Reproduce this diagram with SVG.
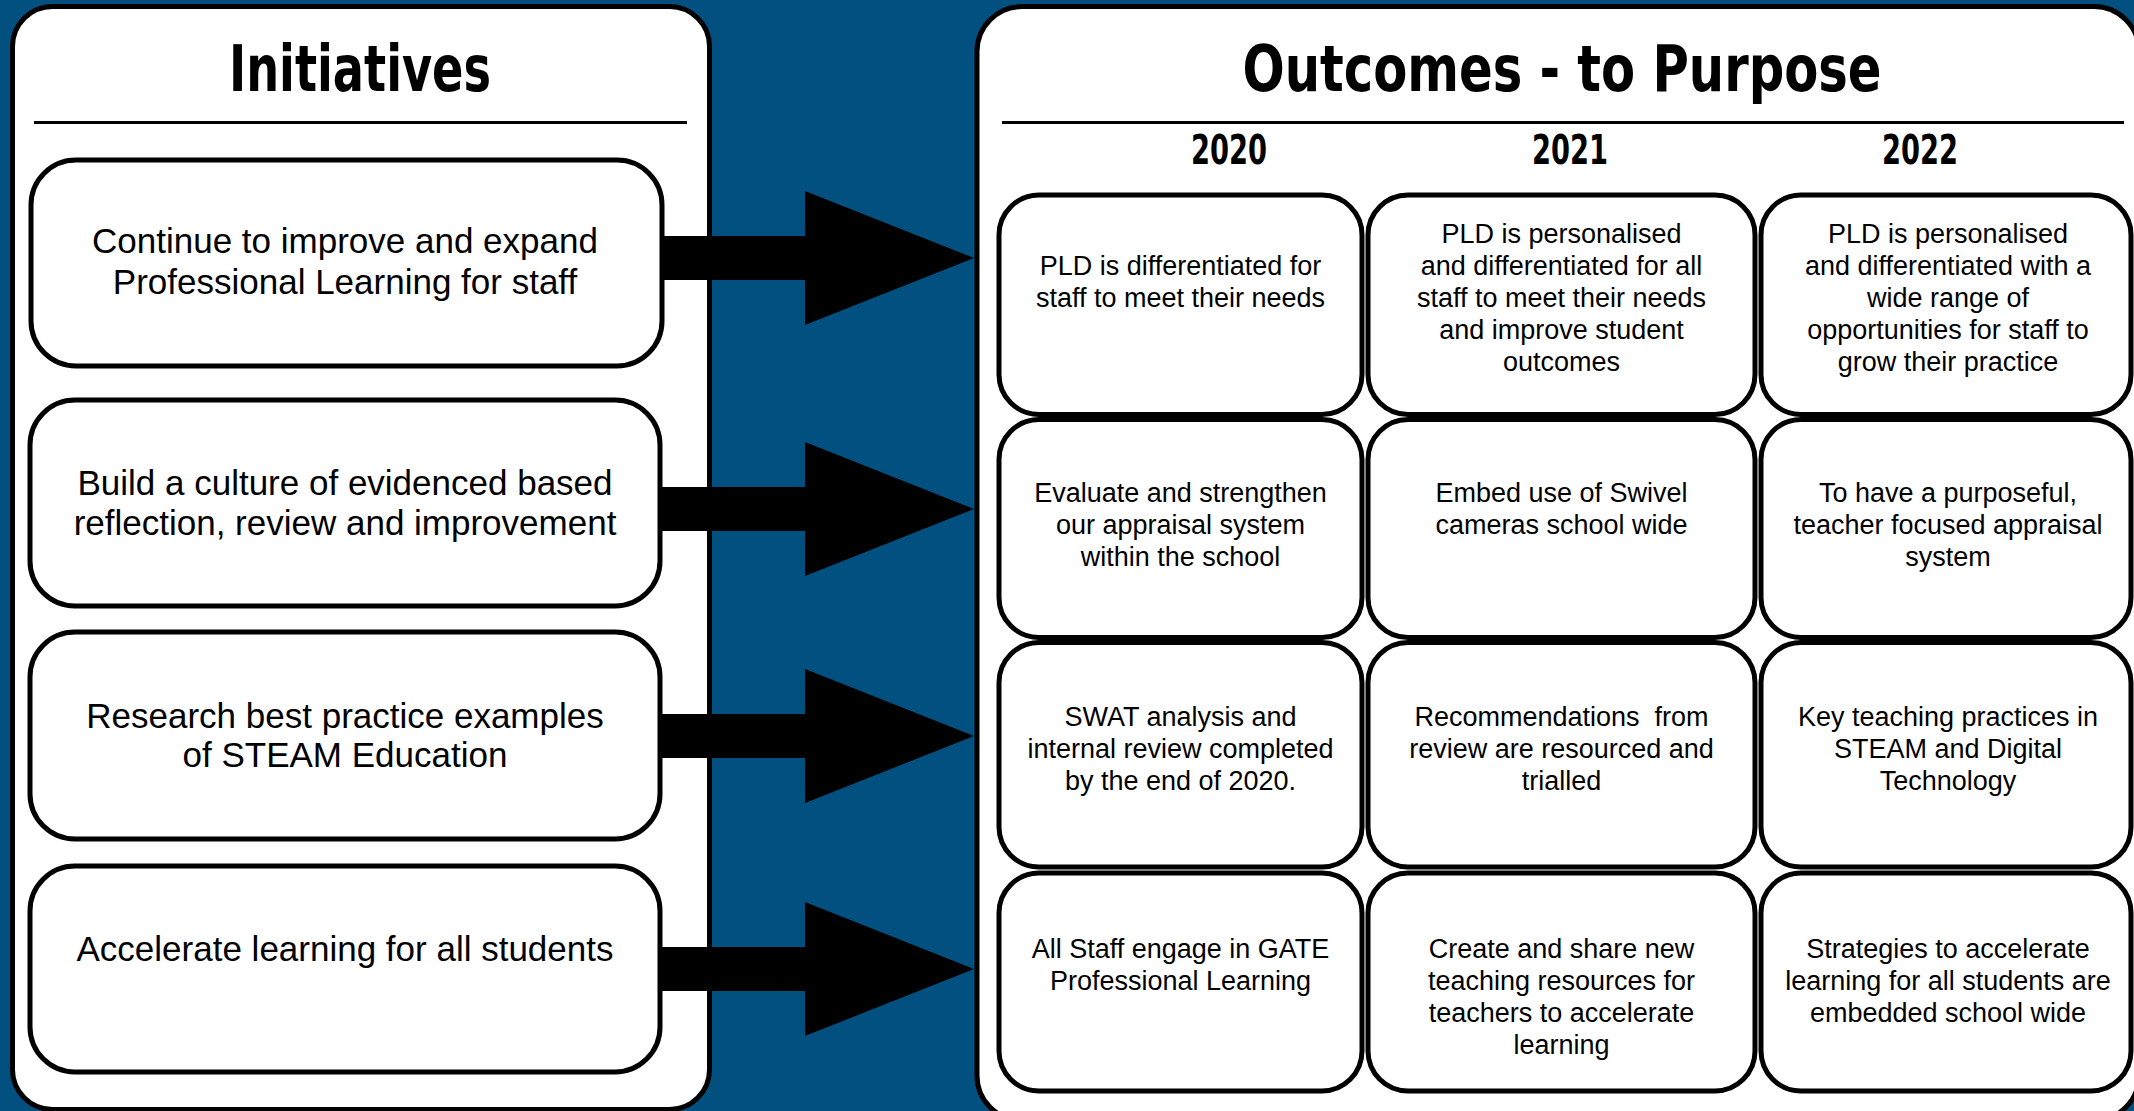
<svg xmlns="http://www.w3.org/2000/svg" width="2134" height="1111" viewBox="0 0 2134 1111">
<style>
.panel{fill:#fff;stroke:#000;stroke-width:5}
.box{fill:#fff;stroke:#000;stroke-width:5}
.rule{stroke:#000;stroke-width:3}
.arrow{fill:#000}
.title{font-family:"DejaVu Sans Condensed","DejaVu Sans",sans-serif;font-weight:bold;font-size:64px;text-anchor:middle;fill:#000}
.year{font-family:"DejaVu Sans Condensed","DejaVu Sans",sans-serif;font-weight:bold;font-size:40px;text-anchor:middle;fill:#000}
.it{font-family:"Liberation Sans",Arial,sans-serif;font-size:35px;text-anchor:middle;fill:#000}
.ot{font-family:"Liberation Sans",Arial,sans-serif;font-size:27px;text-anchor:middle;fill:#000;white-space:pre}
</style>
<rect x="0" y="0" width="2134" height="1111" fill="#01507f"/>
<g id="panels">
<rect id="initiatives-panel" class="panel" x="12.5" y="6.5" width="697" height="1103" rx="40"/>
<rect id="outcomes-panel" class="panel" x="977" y="6.5" width="1162" height="1114" rx="45"/>
<line class="rule" x1="34" y1="122.5" x2="687" y2="122.5"/>
<line class="rule" x1="1002" y1="122.5" x2="2124" y2="122.5"/>
<text class="title" x="360" y="91" textLength="262" lengthAdjust="spacingAndGlyphs">Initiatives</text>
<text class="title" x="1562" y="91" textLength="639" lengthAdjust="spacingAndGlyphs">Outcomes - to Purpose</text>
<text class="year" x="1229" y="164" textLength="76" lengthAdjust="spacingAndGlyphs">2020</text>
<text class="year" x="1570" y="164" textLength="76" lengthAdjust="spacingAndGlyphs">2021</text>
<text class="year" x="1920" y="164" textLength="76" lengthAdjust="spacingAndGlyphs">2022</text>
</g>
<g id="connectors">
<polygon class="arrow" points="655,236 805,236 805,191 974,258 805,325 805,280 655,280"/>
<polygon class="arrow" points="655,487 805,487 805,442 974,509 805,576 805,531 655,531"/>
<polygon class="arrow" points="655,714 805,714 805,669 974,736 805,803 805,758 655,758"/>
<polygon class="arrow" points="655,947 805,947 805,902 974,969 805,1036 805,991 655,991"/>
</g>
<g id="init-1"><rect class="box" x="31" y="160" width="631" height="206" rx="45"/>
<text class="it" x="345" y="253">Continue to improve and expand</text>
<text class="it" x="345" y="294">Professional Learning for staff</text></g>
<g id="init-2"><rect class="box" x="30" y="400" width="630" height="206" rx="45"/>
<text class="it" x="345" y="495">Build a culture of evidenced based</text>
<text class="it" x="345" y="535">reflection, review and improvement</text></g>
<g id="init-3"><rect class="box" x="30" y="632" width="630" height="207" rx="45"/>
<text class="it" x="345" y="728">Research best practice examples</text>
<text class="it" x="345" y="767">of STEAM Education</text></g>
<g id="init-4"><rect class="box" x="30" y="866" width="630" height="206" rx="45"/>
<text class="it" x="345" y="961">Accelerate learning for all students</text></g>

<g id="out-r1c1"><rect class="box" x="999" y="195" width="363" height="219.5" rx="40"/>
<text class="ot" x="1180.5" y="275">PLD is differentiated for</text>
<text class="ot" x="1180.5" y="307">staff to meet their needs</text></g>
<g id="out-r1c2"><rect class="box" x="1368" y="195" width="387" height="219.5" rx="40"/>
<text class="ot" x="1561.5" y="243">PLD is personalised</text>
<text class="ot" x="1561.5" y="275">and differentiated for all</text>
<text class="ot" x="1561.5" y="307">staff to meet their needs</text>
<text class="ot" x="1561.5" y="339">and improve student</text>
<text class="ot" x="1561.5" y="371">outcomes</text></g>
<g id="out-r1c3"><rect class="box" x="1761" y="195" width="370" height="219.5" rx="40"/>
<text class="ot" x="1948" y="243">PLD is personalised</text>
<text class="ot" x="1948" y="275">and differentiated with a</text>
<text class="ot" x="1948" y="307">wide range of</text>
<text class="ot" x="1948" y="339">opportunities for staff to</text>
<text class="ot" x="1948" y="371">grow their practice</text></g>

<g id="out-r2c1"><rect class="box" x="999" y="419.5" width="363" height="218" rx="40"/>
<text class="ot" x="1180.5" y="502">Evaluate and strengthen</text>
<text class="ot" x="1180.5" y="534">our appraisal system</text>
<text class="ot" x="1180.5" y="566">within the school</text></g>
<g id="out-r2c2"><rect class="box" x="1368" y="419.5" width="387" height="218" rx="40"/>
<text class="ot" x="1561.5" y="502">Embed use of Swivel</text>
<text class="ot" x="1561.5" y="534">cameras school wide</text></g>
<g id="out-r2c3"><rect class="box" x="1761" y="419.5" width="370" height="218" rx="40"/>
<text class="ot" x="1948" y="502">To have a purposeful,</text>
<text class="ot" x="1948" y="534">teacher focused appraisal</text>
<text class="ot" x="1948" y="566">system</text></g>

<g id="out-r3c1"><rect class="box" x="999" y="642.5" width="363" height="224.5" rx="40"/>
<text class="ot" x="1180.5" y="726">SWAT analysis and</text>
<text class="ot" x="1180.5" y="758">internal review completed</text>
<text class="ot" x="1180.5" y="790">by the end of 2020.</text></g>
<g id="out-r3c2"><rect class="box" x="1368" y="642.5" width="387" height="224.5" rx="40"/>
<text class="ot" x="1561.5" y="726" xml:space="preserve">Recommendations  from</text>
<text class="ot" x="1561.5" y="758">review are resourced and</text>
<text class="ot" x="1561.5" y="790">trialled</text></g>
<g id="out-r3c3"><rect class="box" x="1761" y="642.5" width="370" height="224.5" rx="40"/>
<text class="ot" x="1948" y="726">Key teaching practices in</text>
<text class="ot" x="1948" y="758">STEAM and Digital</text>
<text class="ot" x="1948" y="790">Technology</text></g>

<g id="out-r4c1"><rect class="box" x="999" y="873" width="363" height="218" rx="40"/>
<text class="ot" x="1180.5" y="958">All Staff engage in GATE</text>
<text class="ot" x="1180.5" y="990">Professional Learning</text></g>
<g id="out-r4c2"><rect class="box" x="1368" y="873" width="387" height="218" rx="40"/>
<text class="ot" x="1561.5" y="958">Create and share new</text>
<text class="ot" x="1561.5" y="990">teaching resources for</text>
<text class="ot" x="1561.5" y="1022">teachers to accelerate</text>
<text class="ot" x="1561.5" y="1054">learning</text></g>
<g id="out-r4c3"><rect class="box" x="1761" y="873" width="370" height="218" rx="40"/>
<text class="ot" x="1948" y="958">Strategies to accelerate</text>
<text class="ot" x="1948" y="990">learning for all students are</text>
<text class="ot" x="1948" y="1022">embedded school wide</text></g>
</svg>
